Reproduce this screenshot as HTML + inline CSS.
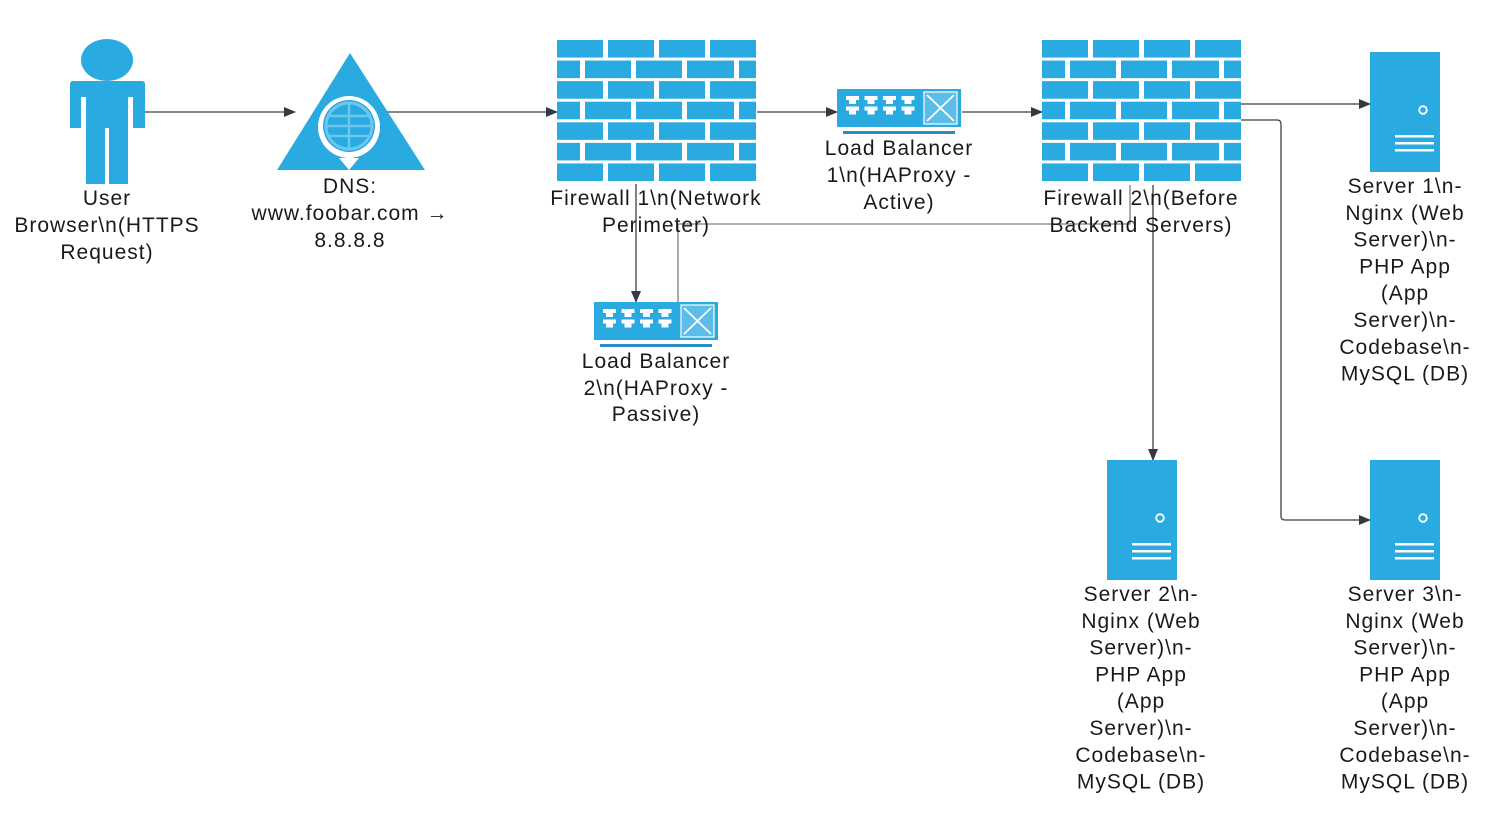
<!DOCTYPE html>
<html><head><meta charset="utf-8"><style>
html,body{margin:0;padding:0;background:#fff;}
svg{display:block;}
text{font-family:"Liberation Sans",sans-serif;font-size:21px;letter-spacing:1px;fill:#1a1a1a;text-anchor:middle;}
</style></head><body>
<svg id="d" width="1510" height="837" viewBox="0 0 1510 837">
<defs>
<marker id="ar" markerWidth="12" markerHeight="10" refX="11" refY="5" orient="auto" markerUnits="userSpaceOnUse"><path d="M0,0 L12,5 L0,10 Z" fill="#333a44"/></marker>
</defs>
<g fill="none" stroke="#3a3f48" stroke-width="1.3">
<path d="M145,112 H295" marker-end="url(#ar)"/>
<path d="M385,112 H557" marker-end="url(#ar)"/>
<path d="M757,112 H837" marker-end="url(#ar)"/>
<path d="M962,112 H1042" marker-end="url(#ar)"/>
<path d="M1241,104 H1370" marker-end="url(#ar)"/>
<path d="M1241,120 H1277 Q1281,120 1281,124 V516 Q1281,520 1285,520 H1370" marker-end="url(#ar)"/>
<path d="M1153,185 V460" marker-end="url(#ar)"/>
<path d="M636,184 V302" marker-end="url(#ar)"/>
<path d="M678,302 V224 H1130 V185" stroke="#7a7f86"/>
</g>
<g fill="#29aae1">
<ellipse cx="107" cy="60" rx="26" ry="21"/>
<path d="M73,81 H142 Q145,81 145,84 V128 H133 V97 H128 V184 H109 V128 H105 V184 H86 V97 H81 V128 H70 V84 Q70,81 73,81 Z"/>
</g>
<g>
<path d="M350,53 L425,170 L277,170 Z" fill="#29aae1"/>
<circle cx="349" cy="127" r="31" fill="#fff"/>
<path d="M339,158 L359,158 L349,170 Z" fill="#fff"/>
<circle cx="349" cy="126" r="26" fill="#29aae1"/>
<circle cx="349" cy="126" r="23" fill="none" stroke="#6cc6ee" stroke-width="3"/>
<path d="M349,103 V149 M326,126 H372 M329,116 H369 M329,136 H369" stroke="#6cc6ee" stroke-width="2.5"/>
</g>
<g id="fw1"></g>
<g id="fw2"></g>
<g id="lb1"></g>
<g id="lb2"></g>
<g id="s1"></g>
<g id="s2"></g>
<g id="s3"></g>
<text><tspan x="107" y="205">User</tspan><tspan x="107" y="232">Browser\n(HTTPS</tspan><tspan x="107" y="259">Request)</tspan></text>
<text><tspan x="350" y="193">DNS:</tspan><tspan x="350" y="220">www.foobar.com →</tspan><tspan x="350" y="247">8.8.8.8</tspan></text>
<text><tspan x="656" y="205">Firewall 1\n(Network</tspan><tspan x="656" y="232">Perimeter)</tspan></text>
<text><tspan x="899" y="155">Load Balancer</tspan><tspan x="899" y="182">1\n(HAProxy -</tspan><tspan x="899" y="209">Active)</tspan></text>
<text><tspan x="1141" y="205">Firewall 2\n(Before</tspan><tspan x="1141" y="232">Backend Servers)</tspan></text>
<text><tspan x="656" y="368">Load Balancer</tspan><tspan x="656" y="395">2\n(HAProxy -</tspan><tspan x="656" y="421">Passive)</tspan></text>
<text id="t1"></text>
<text id="t2"></text>
<text id="t3"></text>
</svg>
<script>
var NS="http://www.w3.org/2000/svg";
function mk(p,tag,a){var e=document.createElementNS(NS,tag);for(var k in a)e.setAttribute(k,a[k]);p.appendChild(e);return e;}
function firewall(id,x0,y0){
  var g=document.getElementById(id);
  var rowA=[[0,46],[51,97],[102,148],[153,199]];
  var rowB=[[0,23],[28,74],[79,125],[130,177],[182,199]];
  var rh=144/7;
  for(var r=0;r<7;r++){
    var row=(r%2==0)?rowA:rowB;
    for(var i=0;i<row.length;i++){
      var b=mk(g,'rect',{x:x0+row[i][0],y:y0+r*rh,width:row[i][1]-row[i][0],height:rh-3,fill:'#29aae1'});
      
      
    }
  }
}
firewall('fw1',557,40);
firewall('fw2',1042,40);
function lb(id,x,y){
  var g=document.getElementById(id);
  mk(g,'rect',{x:x,y:y,width:124,height:38,fill:'#29aae1'});
  for(var c=0;c<4;c++)for(var r=0;r<2;r++){
    var px=x+9+c*18.5, py=y+7+r*10.5;
    mk(g,'path',{d:'M'+px+','+py+' h13 v4 h-3 v4 h-7 v-4 h-3 z',fill:'#fff'});
  }
  mk(g,'rect',{x:x+87,y:y+3,width:33,height:32,fill:'#5bbde8',stroke:'#fff','stroke-width':1.2});
  mk(g,'path',{d:'M'+(x+90)+','+(y+6)+' L'+(x+117)+','+(y+32)+' M'+(x+117)+','+(y+6)+' L'+(x+90)+','+(y+32),stroke:'#fff','stroke-width':1.8,fill:'none'});
  mk(g,'rect',{x:x+6,y:y+42,width:112,height:3,fill:'#2a8cc0'});
}
lb('lb1',837,89);
lb('lb2',594,302);
function server(id,x,y){
  var g=document.getElementById(id);
  mk(g,'rect',{x:x,y:y,width:70,height:120,fill:'#29aae1'});
  mk(g,'circle',{cx:x+53,cy:y+58,r:3.8,fill:'none',stroke:'#fff','stroke-width':1.8});
  for(var i=0;i<3;i++)mk(g,'rect',{x:x+25,y:y+83+i*7,width:39,height:2.5,fill:'#fff'});
}
server('s1',1370,52);
server('s2',1107,460);
server('s3',1370,460);
function label(id,n,cx,y0){
  var lines=['Server '+n+'\\n-','Nginx (Web','Server)\\n-','PHP App','(App','Server)\\n-','Codebase\\n-','MySQL (DB)'];
  var t=document.getElementById(id);
  for(var i=0;i<lines.length;i++){var s=mk(t,'tspan',{x:cx,y:y0+i*26.8});s.textContent=lines[i];}
}
label('t1',1,1405,193);
label('t2',2,1141,601);
label('t3',3,1405,601);
</script>
</body></html>
